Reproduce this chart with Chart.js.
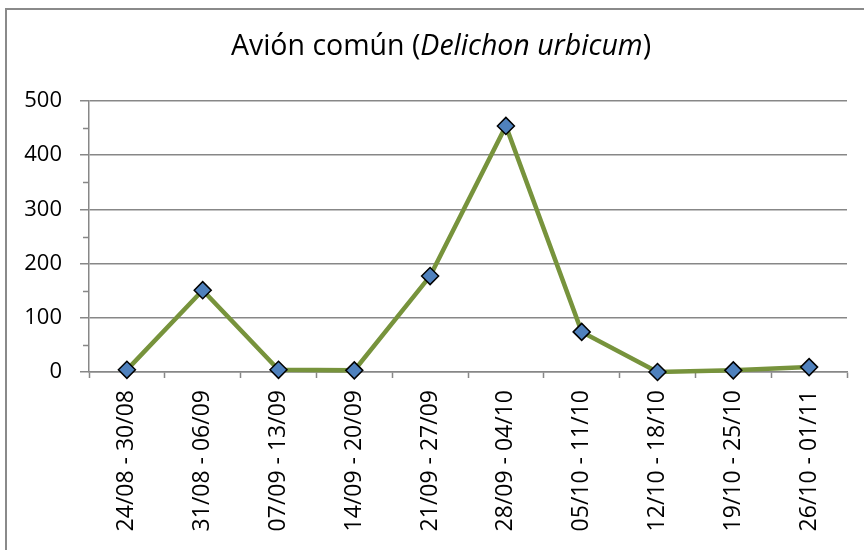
<!DOCTYPE html>
<html>
<head>
<meta charset="utf-8">
<script src="https://cdn.jsdelivr.net/npm/chart.js@4"></script>
<style>
  html, body { margin: 0; padding: 0; background: #fff; }
  #wrap { position: relative; width: 864px; height: 550px; overflow: hidden; }
  #frame {
    position: absolute; left: 5px; top: 8px; width: 900px; height: 600px;
    border-left: 2px solid #8a8a8a; border-top: 2px solid #8a8a8a;
  }
  canvas { position: absolute; left: 0; top: 0; }
</style>
</head>
<body>
<div id="wrap">
  <div id="frame"></div>
  <canvas id="chart" width="864" height="550"></canvas>
</div>
<script>
(() => {
  const weeks = [
    "24/08 - 30/08", "31/08 - 06/09", "07/09 - 13/09", "14/09 - 20/09", "21/09 - 27/09",
    "28/09 - 04/10", "05/10 - 11/10", "12/10 - 18/10", "19/10 - 25/10", "26/10 - 01/11"
  ];
  const counts = [4, 151, 4, 3, 177, 454, 74, 0, 3, 9];
  const yTicks = [0, 100, 200, 300, 400, 500];
  const yMinorTicks = [50, 150, 250, 350, 450];
  // title pieces: [text, italic]
  const titleParts = [["Avión común (", false], ["Delichon urbicum", true], [")", false]];

  const FONT = "'Open Sans', 'Liberation Sans', sans-serif";
  const GRAY = "#878787";

  // minor ticks on the value axis
  const minorTicksPlugin = {
    id: "minorTicks",
    afterDraw(c) {
      const { ctx, scales } = c;
      const y = scales.y;
      const x0 = c.chartArea.left;
      ctx.save();
      ctx.strokeStyle = GRAY;
      ctx.lineWidth = 1.5;
      yMinorTicks.forEach((v) => {
        const py = Math.round(y.getPixelForValue(v)) + 0.5;
        ctx.beginPath();
        ctx.moveTo(x0 - 6, py);
        ctx.lineTo(x0, py);
        ctx.stroke();
      });
      ctx.restore();
    }
  };

  // title with an italic species name
  const mixedTitlePlugin = {
    id: "mixedTitle",
    afterDraw(c) {
      const { ctx } = c;
      const size = 28.5;
      const fontFor = (it) => `${it ? "italic " : ""}${size}px ${FONT}`;
      ctx.save();
      ctx.fillStyle = "#000";
      ctx.textBaseline = "alphabetic";
      let total = 0;
      titleParts.forEach(([t, it]) => { ctx.font = fontFor(it); total += ctx.measureText(t).width; });
      let x = 441 - total / 2;
      titleParts.forEach(([t, it]) => {
        ctx.font = fontFor(it);
        ctx.fillText(t, x, 55);
        x += ctx.measureText(t).width;
      });
      ctx.restore();
    }
  };

  new Chart(document.getElementById("chart"), {
    type: "line",
    data: {
      labels: weeks,
      datasets: [{
        data: counts,
        borderColor: "#77933C",
        borderWidth: 4.5,
        tension: 0,
        pointStyle: "rectRot",
        pointRadius: 8.5,
        pointHoverRadius: 8.5,
        pointBackgroundColor: "#4F81BD",
        pointBorderColor: "#000",
        pointBorderWidth: 1.5,
        clip: false
      }]
    },
    options: {
      responsive: false,
      animation: false,
      layout: { padding: { left: 18, right: 17, top: 101, bottom: 0 } },
      plugins: {
        legend: { display: false },
        tooltip: { enabled: false },
        title: { display: false }
      },
      scales: {
        x: {
          offset: true,
          grid: {
            offset: true,
            drawOnChartArea: false,
            drawTicks: true,
            tickLength: 6,
            tickColor: GRAY,
            tickWidth: 1.5
          },
          border: { display: true, color: GRAY, width: 1.5 },
          ticks: {
            autoSkip: false,
            minRotation: 90,
            maxRotation: 90,
            padding: 12,
            color: "#000",
            font: { family: FONT, size: 23 }
          },
          afterFit(scale) { scale.height = 178; }
        },
        y: {
          min: 0,
          max: 500,
          afterBuildTicks(scale) { scale.ticks = yTicks.map((v) => ({ value: v })); },
          grid: {
            color: GRAY,
            lineWidth: 1.5,
            drawTicks: true,
            tickLength: 9,
            tickColor: GRAY
          },
          border: { display: true, color: GRAY, width: 1.5 },
          ticks: {
            padding: 18,
            color: "#000",
            font: { family: FONT, size: 22 }
          },
          afterFit(scale) { scale.width = 71; }
        }
      }
    },
    plugins: [minorTicksPlugin, mixedTitlePlugin]
  });
})();
</script>
</body>
</html>
